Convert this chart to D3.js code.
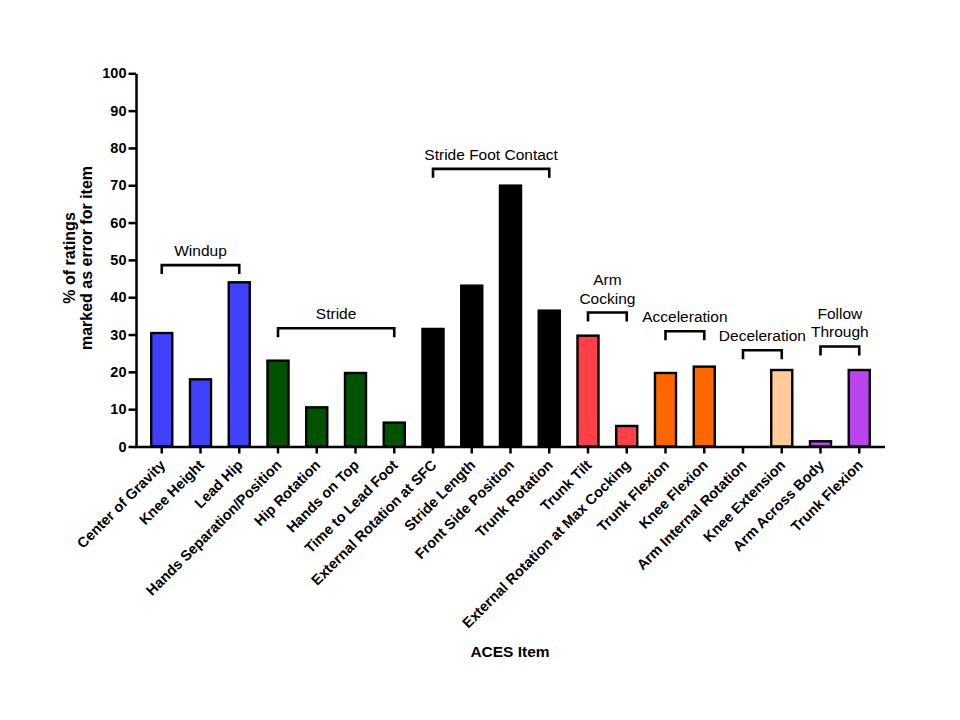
<!DOCTYPE html>
<html>
<head>
<meta charset="utf-8">
<script src="https://cdn.jsdelivr.net/npm/d3@7"></script>
<style>
  body { margin: 0; background: #fff; }
  svg { display: block; }
  text { font-family: "Liberation Sans", Arial, sans-serif; }
</style>
</head>
<body>
<svg id="chart" width="960" height="720"></svg>
<script>
// ---- Data ----
const categories = [
  "Center of Gravity", "Knee Height", "Lead Hip",
  "Hands Separation/Position", "Hip Rotation", "Hands on Top", "Time to Lead Foot",
  "External Rotation at SFC", "Stride Length", "Front Side Position", "Trunk Rotation",
  "Trunk Tilt", "External Rotation at Max Cocking",
  "Trunk Flexion", "Knee Flexion",
  "Arm Internal Rotation", "Knee Extension",
  "Arm Across Body", "Trunk Flexion "
];
const values = [
  30.4, 18.0, 44.0,
  23.0, 10.5, 19.7, 6.4,
  31.5, 43.1, 69.9, 36.4,
  29.7, 5.5,
  19.7, 21.4,
  0, 20.5,
  1.4, 20.5
];
const groupNames = [["Windup"], ["Stride"], ["Stride Foot Contact"], ["Arm", "Cocking"],
  ["Acceleration"], ["Deceleration"], ["Follow", "Through"]];
const groupStart = [0, 3, 7, 11, 13, 15, 17];
const groupEnd   = [2, 6, 10, 12, 14, 16, 18];
const yTicks = [0, 10, 20, 30, 40, 50, 60, 70, 80, 90, 100];

// ---- Layout / style (not data) ----
const groupColors = ["#4040FF", "#005200", "#000000", "#FF4048", "#FF6600", "#FFCC99", "#BB44EE"];
const bracketLevel = [48.6, 31.7, 74.4, 35.9, 30.9, 25.8, 26.8];
const FONT = '"Liberation Sans", Arial, sans-serif';

const svg = d3.select("#chart");
const x0 = 136, x1 = 885, yTop = 73.3, yBot = 446.5;

const x = d3.scaleBand().domain(categories).range([x0, x1]).paddingInner(0.457).paddingOuter(0.393);
const y = d3.scaleLinear().domain([0, 100]).range([yBot, yTop]);

const groupOf = categories.map((c, i) => groupStart.findIndex((s, g) => i >= s && i <= groupEnd[g]));

// Bars
svg.append("g").selectAll("rect").data(categories).join("rect")
  .attr("x", d => x(d))
  .attr("width", x.bandwidth())
  .attr("y", (d, i) => y(values[i]))
  .attr("height", (d, i) => y(0) - y(values[i]))
  .attr("fill", (d, i) => groupColors[groupOf[i]])
  .attr("stroke", "#000")
  .attr("stroke-width", 2.4);

// Y axis
const yAxis = svg.append("g")
  .attr("transform", `translate(${x0},0)`)
  .call(d3.axisLeft(y).tickValues(yTicks).tickSize(7.5).tickPadding(2).tickSizeOuter(0));
yAxis.select(".domain").attr("stroke", "#000").attr("stroke-width", 2.5);
yAxis.selectAll(".tick line").attr("stroke", "#000").attr("stroke-width", 2.5);
yAxis.selectAll(".tick text")
  .attr("font-family", FONT).attr("font-size", 14.5).attr("font-weight", "bold").attr("fill", "#000");

// X axis
const xAxis = svg.append("g")
  .attr("transform", `translate(0,${yBot})`)
  .call(d3.axisBottom(x).tickSize(7).tickSizeOuter(0).tickFormat(""));
xAxis.select(".domain").attr("stroke", "#000").attr("stroke-width", 2.5)
  .attr("d", `M${x0 - 1.25},0.5H${x1}`);
xAxis.selectAll(".tick line").attr("stroke", "#000").attr("stroke-width", 2.5);

// X tick labels (rotated)
svg.append("g").selectAll("text").data(categories).join("text")
  .attr("transform", d => `translate(${x(d) + x.bandwidth() / 2 + 4.5},466) rotate(-45)`)
  .attr("text-anchor", "end")
  .attr("font-family", FONT).attr("font-size", 14.5).attr("font-weight", "bold")
  .text(d => d.trim());

// Group brackets
const brackets = svg.append("g");
groupNames.forEach((lines, g) => {
  const xa = x(categories[groupStart[g]]) + x.bandwidth() / 2;
  const xb = x(categories[groupEnd[g]]) + x.bandwidth() / 2;
  const yb = y(bracketLevel[g]);
  brackets.append("path")
    .attr("d", `M${xa},${yb + 9}V${yb}H${xb}V${yb + 9}`)
    .attr("fill", "none").attr("stroke", "#000").attr("stroke-width", 2.6);
  const t = brackets.append("text")
    .attr("text-anchor", "middle")
    .attr("font-family", FONT).attr("font-size", 15.5).attr("fill", "#000");
  const n = lines.length;
  lines.forEach((ln, k) => {
    t.append("tspan").attr("x", (xa + xb) / 2)
      .attr("y", yb - 9 - (n - 1 - k) * 18.5).text(ln);
  });
});

// Y title
const yt = svg.append("text")
  .attr("transform", "translate(0,258) rotate(-90)")
  .attr("text-anchor", "middle")
  .attr("font-family", FONT).attr("font-size", 16).attr("font-weight", "bold");
yt.append("tspan").attr("x", 0).attr("y", 74.5).text("% of ratings");
yt.append("tspan").attr("x", 0).attr("y", 92).text("marked as error for item");

// X title
svg.append("text")
  .attr("x", 510).attr("y", 656.5)
  .attr("text-anchor", "middle")
  .attr("font-family", FONT).attr("font-size", 15.5).attr("font-weight", "bold")
  .text("ACES Item");
</script>
</body>
</html>
